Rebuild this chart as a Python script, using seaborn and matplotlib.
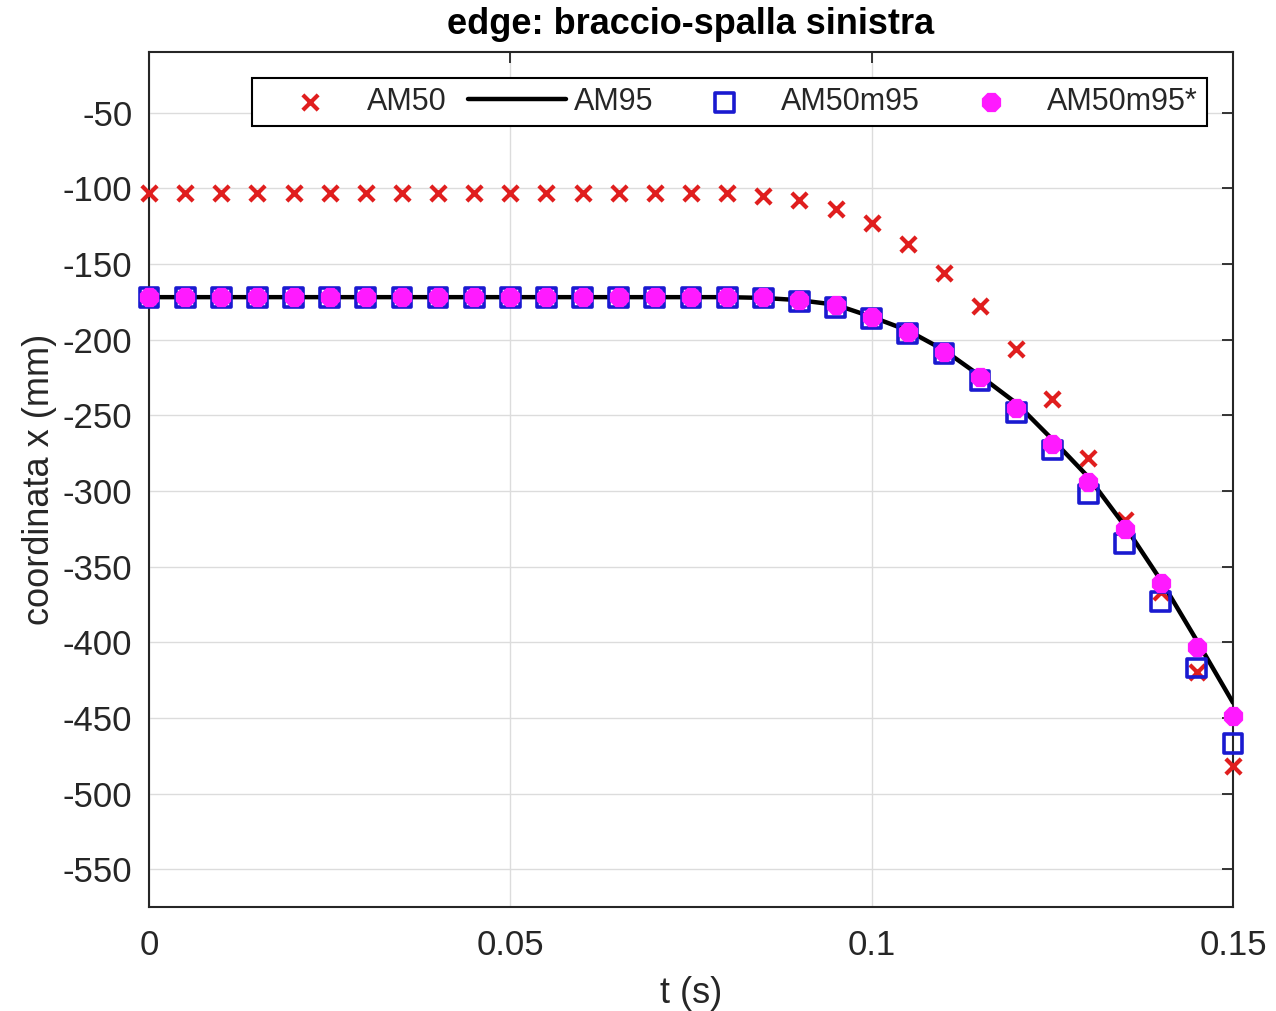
import numpy as np
import pandas as pd
import matplotlib
matplotlib.use("Agg")
import matplotlib.pyplot as plt
import seaborn as sns

# ---- data ----
t = [0.000, 0.005, 0.010, 0.015, 0.020, 0.025, 0.030, 0.035, 0.040, 0.045,
     0.050, 0.055, 0.060, 0.065, 0.070, 0.075, 0.080, 0.085, 0.090, 0.095,
     0.100, 0.105, 0.110, 0.115, 0.120, 0.125, 0.130, 0.135, 0.140, 0.145, 0.150]

am50 = [-103, -103, -103, -103, -103, -103, -103, -103, -103, -103,
        -103, -103, -103, -103, -103, -103, -103, -105, -108, -114,
        -123, -137, -156, -178, -206, -239, -278, -319, -367, -420, -482]

am95 = [-172, -172, -172, -172, -172, -172, -172, -172, -172, -172,
        -172, -172, -172, -172, -172, -172, -172, -172.5, -174, -177,
        -185, -194, -207, -224, -242, -266, -291, -323, -359, -399, -440]

am50m95 = [-172, -172, -172, -172, -172, -172, -172, -172, -172, -172,
           -172, -172, -172, -172, -172, -172, -172, -172.5, -175, -179,
           -186, -196, -209, -227, -248, -273, -302, -335, -373, -417, -467]

am50m95s = [-172, -172, -172, -172, -172, -172, -172, -172, -172, -172,
            -172, -172, -172, -172, -172, -172, -172, -172, -174, -177,
            -185, -195, -208, -225, -245, -269, -294, -325, -361, -403, -449]

series_labels = ["AM50", "AM95", "AM50m95", "AM50m95*"]
x_ticks = [0, 0.05, 0.1, 0.15]
x_ticklabels = ["0", "0.05", "0.1", "0.15"]
y_ticks = [-50, -100, -150, -200, -250, -300, -350, -400, -450, -500, -550]

title = "edge: braccio-spalla sinistra"
xlabel = "t (s)"
ylabel = "coordinata x (mm)"

# ---- plot ----
sns.set_theme(style="white")
plt.rcParams["font.family"] = ["Liberation Sans", "DejaVu Sans"]
plt.rcParams["axes.unicode_minus"] = False

fig = plt.figure(figsize=(12.76, 10.11), dpi=100)
ax = fig.add_axes([149/1276, 1 - 907/1011, (1233-149)/1276, (907-52)/1011])

df = pd.DataFrame({"t": t, "am50": am50, "am95": am95,
                   "am50m95": am50m95, "am50m95s": am50m95s})

sns.scatterplot(data=df, x="t", y="am50", marker="x", s=11**2, color="#e01e1e",
                linewidth=3, ax=ax, label=series_labels[0], zorder=3, clip_on=False)
sns.lineplot(data=df, x="t", y="am95", color="black", linewidth=3.2, ax=ax,
             label=series_labels[1], zorder=4)
sns.scatterplot(data=df, x="t", y="am50m95", marker="s", s=13.5**2, facecolors="none",
                edgecolor="#1a1ad0", linewidth=2.6, ax=ax, label=series_labels[2],
                zorder=5, clip_on=False)
sns.scatterplot(data=df, x="t", y="am50m95s", marker="8", s=15**2, color="#ff1aff",
                edgecolor="#ff1aff", linewidth=0, ax=ax, label=series_labels[3],
                zorder=6, clip_on=False)

ax.set_xlim(0, 0.15)
ax.set_ylim(-575, -10)
ax.set_xticks(x_ticks)
ax.set_xticklabels(x_ticklabels)
ax.set_yticks(y_ticks)
ax.tick_params(axis="both", which="both", direction="in", length=8, width=1.3,
               labelsize=25, colors="#262626", top=True, right=True, pad=16)
ax.tick_params(axis="y", pad=12)
for lab in ax.get_xticklabels() + ax.get_yticklabels():
    lab.set_color("#262626")
ax.grid(True, color="#dcdcdc", linewidth=1.0)
for sp in ax.spines.values():
    sp.set_visible(True)
    sp.set_color("#262626")
    sp.set_linewidth(1.5)

ax.set_title(title, fontsize=26, fontweight="bold", color="black", pad=13)
ax.set_xlabel(xlabel, fontsize=26, color="#262626", labelpad=10)
ax.set_ylabel(ylabel, fontsize=26, color="#262626", labelpad=4)

handles, labels = ax.get_legend_handles_labels()
leg = ax.legend(handles, labels, ncol=4, loc="upper right",
                bbox_to_anchor=((1207-149)/1084, (907-78)/855), borderaxespad=0,
                fontsize=22, frameon=True, fancybox=False, framealpha=1,
                edgecolor="black", handlelength=3.2, handletextpad=0.25,
                columnspacing=0.72, borderpad=0.3)
leg.get_frame().set_linewidth(1.5)

fig.savefig("out.png", dpi=100)
